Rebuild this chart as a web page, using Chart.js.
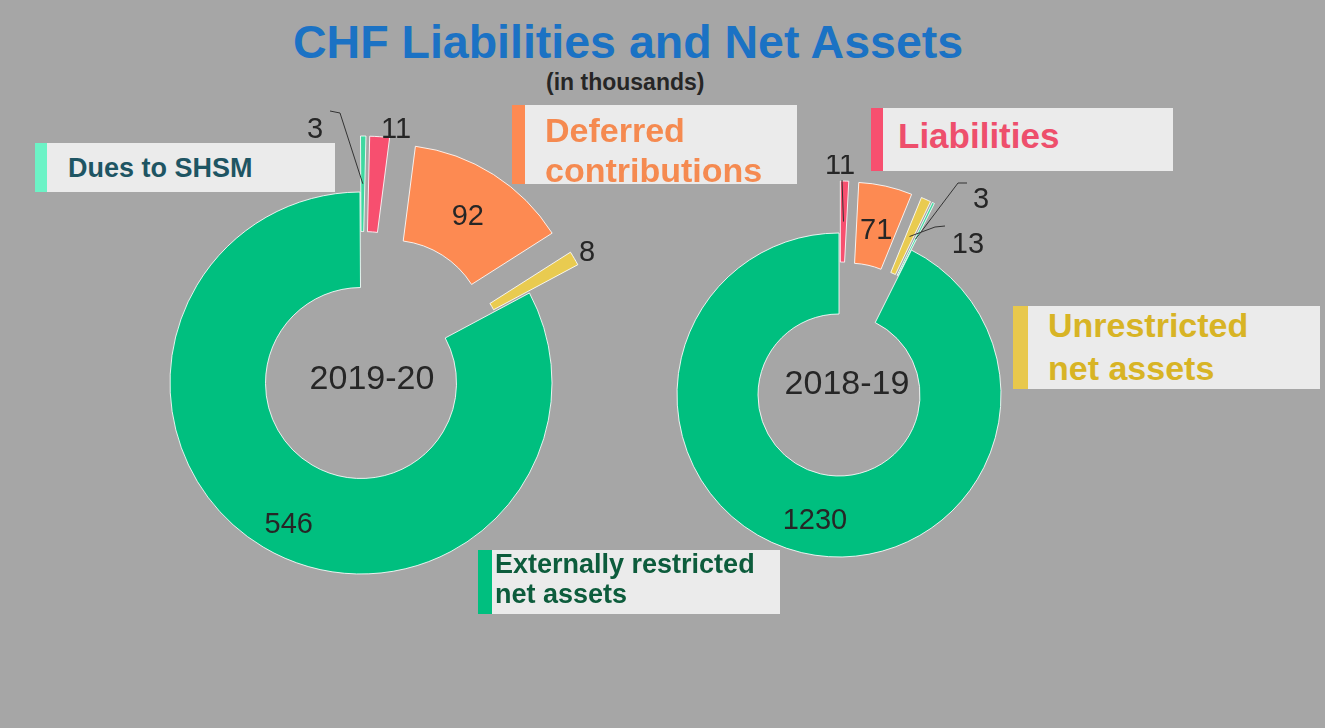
<!DOCTYPE html>
<html>
<head>
<meta charset="utf-8">
<script src="https://cdn.jsdelivr.net/npm/chart.js@4.4.0/dist/chart.umd.min.js"></script>
<style>
  body { margin: 0; background: #a6a6a6; }
  #page { position: relative; width: 1325px; height: 728px; background: #a6a6a6; overflow: hidden;
          font-family: "Liberation Sans", Arial, sans-serif; }
  #title { position: absolute; left: 293px; top: 19px; font-size: 46.5px; line-height: 46px; font-weight: bold;
           color: #1b72c4; white-space: nowrap; }
  #sub { position: absolute; left: 546px; top: 71px; font-size: 23px; line-height: 22px; font-weight: bold;
         color: #262626; white-space: nowrap; }
  canvas { position: absolute; }
  #c1 { left: 71px; top: 93px; }
  #c2 { left: 599px; top: 155px; }
  .box { position: absolute; background: #ebebeb; z-index: 2; }
  .box .bar { position: absolute; left: 0; top: 0; bottom: 0; }
  .box .txt { position: absolute; font-weight: bold; white-space: nowrap; }
</style>
</head>
<body>
<div id="page">
  <div id="title">CHF Liabilities and Net Assets</div>
  <div id="sub">(in thousands)</div>
  <canvas id="c1" width="580" height="580"></canvas>
  <canvas id="c2" width="480" height="480"></canvas>

  <div class="box" style="left:35px;top:143px;width:300px;height:49px;">
    <div class="bar" style="width:12px;background:#6cf3c6;"></div>
    <div class="txt" style="left:33px;top:10px;font-size:27px;line-height:30px;color:#1e5563;">Dues to SHSM</div>
  </div>
  <div class="box" style="left:512px;top:105px;width:285px;height:79px;">
    <div class="bar" style="width:13px;background:#fd8a52;"></div>
    <div class="txt" style="left:33px;top:5px;font-size:34px;line-height:40px;color:#f58a50;">Deferred<br>contributions</div>
  </div>
  <div class="box" style="left:871px;top:108px;width:302px;height:63px;">
    <div class="bar" style="width:12px;background:#f74f6f;"></div>
    <div class="txt" style="left:27px;top:8px;font-size:35px;line-height:40px;color:#ee4f6c;">Liabilities</div>
  </div>
  <div class="box" style="left:1013px;top:306px;width:307px;height:83px;">
    <div class="bar" style="width:15px;background:#e8c84c;"></div>
    <div class="txt" style="left:35px;top:-2px;font-size:34px;line-height:43px;color:#d8b425;">Unrestricted<br>net assets</div>
  </div>
  <div class="box" style="left:478px;top:550px;width:302px;height:64px;">
    <div class="bar" style="width:14px;background:#00bf7f;"></div>
    <div class="txt" style="left:17px;top:-1px;font-size:27px;line-height:30px;color:#0d5c3c;">Externally restricted<br>net assets</div>
  </div>
</div>

<script>
// data (CHF thousands)
const labels1920 = ['Dues to SHSM', 'Liabilities', 'Deferred contributions', 'Unrestricted net assets', 'Externally restricted net assets'];
const values1920 = [3, 11, 92, 8, 546];
const labels1819 = ['Liabilities', 'Deferred contributions', 'Unrestricted net assets', 'Dues to SHSM', 'Externally restricted net assets'];
const values1819 = [11, 71, 13, 3, 1230];
const years = ['2019-20', '2018-19'];

const colorOf = {
  'Dues to SHSM': '#3fd8a0',
  'Liabilities': '#f74f6f',
  'Deferred contributions': '#fd8a52',
  'Unrestricted net assets': '#e9cb50',
  'Externally restricted net assets': '#00bf7f'
};

const FONT = '"Liberation Sans", Arial, sans-serif';

// how far a slice is pulled out (px); the big green one stays put
function pullOf(chart, i) {
  const lab = chart.data.labels[i];
  return lab === 'Externally restricted net assets' ? 0 : chart.options.plugins.sliceLabels.pull;
}

// excel-style explode: shift each arc along its bisector, no shrinking
const explodeDraw = {
  id: 'explodeDraw',
  beforeDatasetDraw(chart, args) {
    const ctx = chart.ctx;
    args.meta.data.forEach((arc, i) => {
      const p = arc.getProps(['startAngle', 'endAngle'], true);
      const mid = (p.startAngle + p.endAngle) / 2;
      const d = pullOf(chart, i);
      ctx.save();
      ctx.translate(Math.cos(mid) * d, Math.sin(mid) * d);
      arc.draw(ctx, chart.chartArea);
      ctx.restore();
    });
    return false;
  }
};

// value labels + leader lines + year in the hole
const sliceLabels = {
  id: 'sliceLabels',
  afterDatasetsDraw(chart, args, opts) {
    const ctx = chart.ctx;
    const meta = chart.getDatasetMeta(0);
    const vals = chart.data.datasets[0].data;
    const ca = chart.chartArea;
    const cx = (ca.left + ca.right) / 2, cy = (ca.top + ca.bottom) / 2;

    function arcPoint(arc, i, frac, da) {
      const p = arc.getProps(['x', 'y', 'startAngle', 'endAngle', 'innerRadius', 'outerRadius'], true);
      const mid = (p.startAngle + p.endAngle) / 2;
      const d = pullOf(chart, i);
      const a = mid + (da || 0) * Math.PI / 180;
      const r = p.innerRadius + (p.outerRadius - p.innerRadius) * frac;
      return [p.x + Math.cos(a) * r + Math.cos(mid) * d, p.y + Math.sin(a) * r + Math.sin(mid) * d];
    }

    ctx.save();
    ctx.fillStyle = '#262626';
    ctx.strokeStyle = '#333333';
    ctx.lineWidth = 1;
    ctx.textAlign = 'center';
    ctx.textBaseline = 'alphabetic';
    const fs = opts.fontSize;
    ctx.font = fs + 'px ' + FONT;

    meta.data.forEach((arc, i) => {
      const pl = opts.place[i];
      let x, y;
      if (pl.inside) {
        [x, y] = arcPoint(arc, i, pl.frac, pl.da);
      } else {
        x = cx + pl.dx; y = cy + pl.dy;
        if (pl.leader) {
          const end = arcPoint(arc, i, 0.5, 0);
          ctx.beginPath();
          pl.leader.forEach((q, k) => {
            if (k === 0) ctx.moveTo(cx + q[0], cy + q[1]);
            else ctx.lineTo(cx + q[0], cy + q[1]);
          });
          ctx.lineTo(end[0], end[1]);
          ctx.stroke();
        }
      }
      ctx.fillText(String(vals[i]), x, y + fs * 0.36);
    });

    ctx.font = opts.centerSize + 'px ' + FONT;
    ctx.fillText(opts.center, cx + opts.centerDx, cy + opts.centerDy + opts.centerSize * 0.36);
    ctx.restore();
  }
};

function makeDonut(id, labels, values, radius, rotation, plugOpts) {
  return new Chart(document.getElementById(id), {
    type: 'doughnut',
    data: {
      labels: labels,
      datasets: [{
        data: values,
        backgroundColor: labels.map(l => colorOf[l]),
        borderColor: 'rgba(255,255,255,0.85)',
        borderWidth: 1
      }]
    },
    options: {
      responsive: false,
      animation: false,
      events: [],
      radius: radius,
      cutout: '50%',
      rotation: rotation,
      layout: { padding: 0 },
      plugins: {
        legend: { display: false },
        tooltip: { enabled: false },
        sliceLabels: plugOpts
      }
    },
    plugins: [explodeDraw, sliceLabels]
  });
}

makeDonut('c1', labels1920, values1920, 191, -0.3, {
  pull: 56,
  fontSize: 29,
  center: years[0], centerSize: 34, centerDx: 11, centerDy: -6,
  place: [
    { dx: -46, dy: -255, leader: [[-31, -272], [-21, -270]] },
    { dx: 35, dy: -255 },
    { inside: true, frac: 0.5 },
    { dx: 226, dy: -132 },
    { inside: true, frac: 0.65, da: -3.5 }
  ]
});

makeDonut('c2', labels1819, values1819, 162, 0, {
  pull: 52,
  fontSize: 29,
  center: years[1], centerSize: 34, centerDx: 8, centerDy: -13,
  place: [
    { dx: 1, dy: -231, leader: [[3, -215]] },
    { inside: true, frac: 0.46 },
    { dx: 129, dy: -152, leader: [[106, -169], [96, -168]] },
    { dx: 142, dy: -197, leader: [[128, -212], [119, -212]] },
    { inside: true, frac: 0.56, da: -2.3 }
  ]
});
</script>
</body>
</html>
